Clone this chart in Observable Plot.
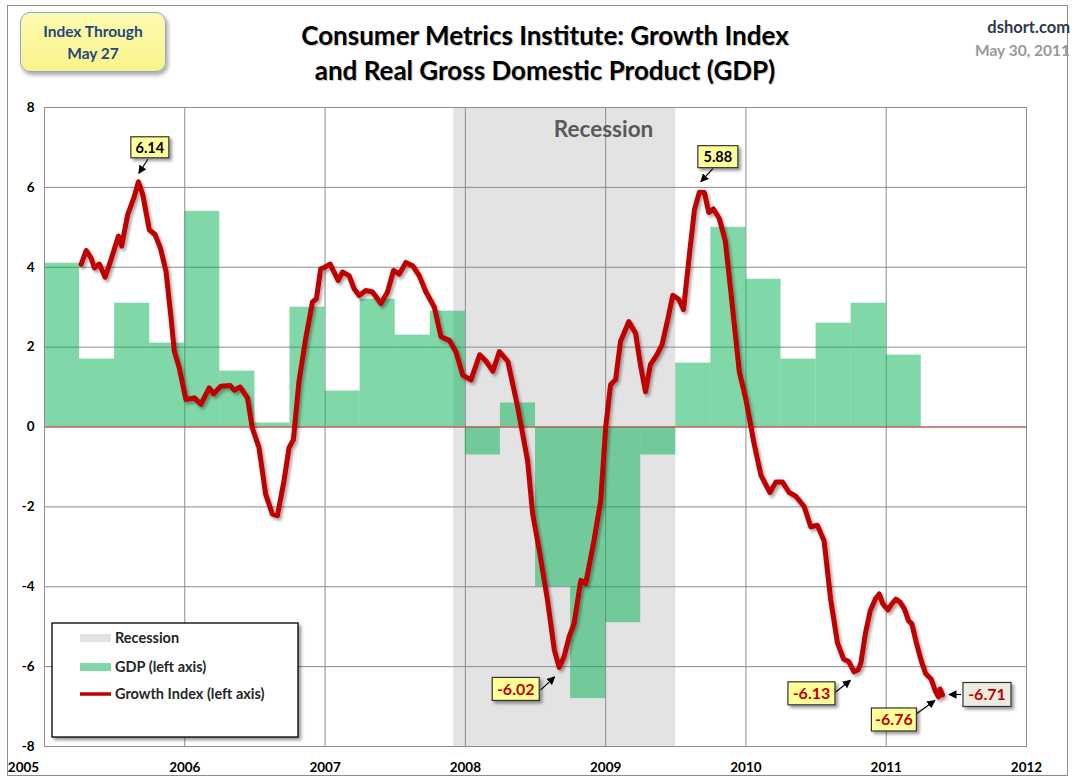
<!DOCTYPE html>
<html><head><meta charset="utf-8">
<script src="https://cdn.jsdelivr.net/npm/d3@7"></script>
<script src="https://cdn.jsdelivr.net/npm/@observablehq/plot@0.6"></script>
<style>
body{margin:0;background:#fff;font-family:Lato,"Open Sans",sans-serif;}
#wrap{position:relative;width:1075px;height:782px;overflow:hidden;background:#fff;}
#chart{position:absolute;left:0;top:0;}
.ov{position:absolute;z-index:2;}
</style></head><body>
<div id="wrap">
  <div id="chart"></div>
  <div class="ov" style="left:7px;top:5px;width:1061px;height:771px;border:1px solid #8c8c8c;box-sizing:border-box;"></div>
  <div class="ov" style="left:0;width:1090px;top:18px;text-align:center;font-weight:bold;font-size:26px;line-height:35px;color:#000;text-shadow:1px 1px 1px rgba(0,0,0,0.25);">Consumer Metrics Institute: Growth Index<br>and Real Gross Domestic Product (GDP)</div>
  <div class="ov" style="left:20px;top:12px;width:146px;height:60px;box-sizing:border-box;border:1.5px solid #8fa9cc;border-radius:10px;background:linear-gradient(#fdfbb0,#f9f48a);box-shadow:2px 3px 4px rgba(0,0,0,0.35);text-align:center;font-weight:bold;font-size:15.5px;line-height:22px;color:#1f497d;padding-top:7px;">Index Through<br>May 27</div>
  <div class="ov" style="right:5px;top:17px;text-align:right;font-weight:bold;font-size:16.5px;line-height:20px;color:#2e3a4c;">dshort.com</div>
  <div class="ov" style="right:5px;top:40px;text-align:right;font-weight:bold;font-size:15.5px;line-height:20px;color:#999;">May 30, 2011</div>
</div>
<script>
// ---- Data ----
const gdpQuarters = ["2005Q1","2005Q2","2005Q3","2005Q4","2006Q1","2006Q2","2006Q3","2006Q4",
  "2007Q1","2007Q2","2007Q3","2007Q4","2008Q1","2008Q2","2008Q3","2008Q4",
  "2009Q1","2009Q2","2009Q3","2009Q4","2010Q1","2010Q2","2010Q3","2010Q4","2011Q1"];
const gdpValues = [4.1,1.7,3.1,2.1,5.4,1.4,0.1,3.0,
  0.9,3.2,2.3,2.9,-0.7,0.6,-4.0,-6.8,
  -4.9,-0.7,1.6,5.0,3.7,1.7,2.6,3.1,1.8];

const giDates = [2005.261,2005.297,2005.332,2005.356,2005.391,2005.432,2005.474,2005.527,2005.550,2005.593,
  2005.641,2005.669,2005.700,2005.747,2005.788,2005.826,2005.866,2005.902,2005.925,2005.961,
  2006.008,2006.068,2006.115,2006.174,2006.205,2006.257,2006.324,2006.352,2006.395,2006.447,
  2006.481,2006.529,2006.576,2006.624,2006.660,2006.707,2006.743,2006.774,2006.814,2006.862,
  2006.910,2006.938,2006.969,2006.998,2007.036,2007.064,2007.093,2007.124,2007.171,2007.207,
  2007.243,2007.290,2007.338,2007.398,2007.445,2007.488,2007.529,2007.576,2007.624,2007.671,
  2007.719,2007.779,2007.826,2007.886,2007.933,2007.981,2008.040,2008.102,2008.149,2008.196,
  2008.243,2008.303,2008.374,2008.444,2008.480,2008.527,2008.586,2008.634,2008.669,2008.704,
  2008.740,2008.775,2008.823,2008.858,2008.917,2008.965,2009.000,2009.035,2009.071,2009.106,
  2009.165,2009.213,2009.248,2009.284,2009.319,2009.366,2009.402,2009.443,2009.479,2009.521,
  2009.555,2009.597,2009.633,2009.668,2009.704,2009.735,2009.768,2009.810,2009.853,2009.893,
  2009.953,2010.000,2010.059,2010.107,2010.171,2010.213,2010.261,2010.308,2010.355,2010.415,
  2010.462,2010.509,2010.557,2010.604,2010.652,2010.696,2010.732,2010.770,2010.800,2010.820,
  2010.851,2010.886,2010.922,2010.950,2010.976,2011.012,2011.040,2011.069,2011.100,2011.130,
  2011.159,2011.183,2011.211,2011.249,2011.282,2011.320,2011.349,2011.372,2011.384,2011.401];
const giValues = [4.07,4.42,4.23,3.98,4.08,3.75,4.19,4.78,4.53,5.32,
  5.78,6.14,5.82,4.94,4.82,4.48,3.90,2.73,1.90,1.48,
  0.69,0.73,0.57,0.98,0.83,1.02,1.04,0.92,1.00,0.73,
  -0.02,-0.52,-1.68,-2.18,-2.22,-1.35,-0.52,-0.32,1.14,2.22,
  3.13,3.21,3.96,4.00,4.08,3.88,3.67,3.88,3.79,3.46,
  3.29,3.42,3.38,3.09,3.38,3.92,3.83,4.12,4.04,3.79,
  3.38,3.00,2.26,2.17,1.88,1.30,1.18,1.81,1.64,1.40,
  1.89,1.64,0.48,-0.85,-2.18,-3.09,-4.34,-5.58,-6.02,-5.75,
  -5.25,-4.92,-3.84,-3.92,-2.84,-1.84,-0.02,1.06,1.19,2.14,
  2.64,2.35,1.56,0.88,1.56,1.81,2.06,2.70,3.30,3.20,
  2.94,4.32,5.44,5.88,5.87,5.37,5.46,5.22,4.66,3.37,
  1.38,0.69,-0.43,-1.21,-1.64,-1.38,-1.38,-1.64,-1.73,-1.99,
  -2.50,-2.46,-2.85,-4.32,-5.40,-5.81,-5.87,-6.13,-6.08,-5.90,
  -5.18,-4.60,-4.31,-4.18,-4.43,-4.58,-4.43,-4.31,-4.39,-4.56,
  -4.85,-4.93,-5.35,-5.85,-6.18,-6.31,-6.60,-6.76,-6.56,-6.71];

const recessionStarts = [2007.917];
const recessionEnds = [2009.5];
const recessionLabelX = [2008.985];
const recessionLabelY = [7.43];

const yearTicks = [2005,2006,2007,2008,2009,2010,2011,2012];
const valueTicks = [-8,-6,-4,-2,0,2,4,6,8];

const annLabels = ["6.14","5.88","-6.02","-6.13","-6.76","-6.71"];
const annX = [2005.669,2009.668,2008.669,2010.770,2011.372,2011.401];
const annY = [6.14,5.88,-6.02,-6.13,-6.76,-6.71];

const legendLabels = ["Recession","GDP (left axis)","Growth Index (left axis)"];

// ---- Tables ----
const gdp = gdpQuarters.map((q,i)=>{const yr=+q.slice(0,4), k=+q.slice(5); return {x1:yr+(k-1)/4, x2:yr+k/4, v:gdpValues[i]};});
const gi = giDates.map((t,i)=>({t, v:giValues[i]}));
const recession = recessionStarts.map((s,i)=>({start:s, end:recessionEnds[i], lx:recessionLabelX[i], ly:recessionLabelY[i]}));

const RED = "#c00000";
const annStyle = [
  {dx:12,dy:-34,w:38,h:21,a1:[10,-22],a2:[1,-8],color:"#000",fill:"#ffff99",fs:14.5},
  {dx:19,dy:-35,w:40,h:22,a1:[14,-23],a2:[2,-10],color:"#000",fill:"#ffff99",fs:14.5},
  {dx:-43,dy:22,w:47,h:23,a1:[-18,23],a2:[-4,10],color:RED,fill:"#ffff99",fs:16},
  {dx:-42,dy:22,w:47,h:23,a1:[-18,21],a2:[-3,9],color:RED,fill:"#ffff99",fs:16},
  {dx:-44,dy:23,w:45,h:23,a1:[-21,17],a2:[-3,4],color:RED,fill:"#ffff99",fs:16},
  {dx:45,dy:0,w:48,h:24,a1:[19,0],a2:[7,0],color:RED,fill:"#eeece1",fs:16}
];

function overlayMark(index, scales, values, dimensions, context) {
  const x = scales.x, y = scales.y;
  const g = d3.create("svg:g").attr("text-anchor","start");
  const defs = g.append("defs");
  defs.append("marker").attr("id","ah").attr("viewBox","0 0 10 10").attr("refX",9).attr("refY",5)
    .attr("markerWidth",7).attr("markerHeight",7).attr("orient","auto-start-reverse")
    .append("path").attr("d","M0,0L10,5L0,10z").attr("fill","#000");
  const f1 = defs.append("filter").attr("id","lineShadow").attr("x","-5%").attr("y","-5%").attr("width","110%").attr("height","110%");
  f1.append("feDropShadow").attr("dx",2).attr("dy",2.5).attr("stdDeviation",1.5).attr("flood-color","#000").attr("flood-opacity",0.35);
  const f2 = defs.append("filter").attr("id","boxShadow").attr("x","-20%").attr("y","-20%").attr("width","150%").attr("height","160%");
  f2.append("feDropShadow").attr("dx",2.5).attr("dy",2.5).attr("stdDeviation",1.5).attr("flood-color","#000").attr("flood-opacity",0.4);

  // annotations
  annLabels.forEach((lab,i)=>{
    const px = x(annX[i]), py = y(annY[i]), s = annStyle[i];
    const cx = px + s.dx, cy = py + s.dy;
    g.append("line").attr("x1",px+s.a1[0]).attr("y1",py+s.a1[1]).attr("x2",px+s.a2[0]).attr("y2",py+s.a2[1])
      .attr("stroke","#000").attr("stroke-width",1.2).attr("marker-end","url(#ah)");
    g.append("rect").attr("x",cx-s.w/2).attr("y",cy-s.h/2).attr("width",s.w).attr("height",s.h)
      .attr("fill",s.fill).attr("stroke","#333").attr("stroke-width",1.2).attr("filter","url(#boxShadow)");
    g.append("text").attr("x",cx).attr("y",cy).attr("text-anchor","middle").attr("dy","0.36em")
      .attr("fill",s.color).attr("font-size",s.fs).attr("font-weight","bold").text(lab);
  });

  // legend
  const lg = g.append("g");
  lg.append("rect").attr("x",52).attr("y",623).attr("width",246).attr("height",114)
    .attr("fill","#fff").attr("stroke","#000").attr("stroke-width",1.3).attr("filter","url(#boxShadow)");
  const ly = [638,667,694];
  lg.append("rect").attr("x",80).attr("y",ly[0]-4).attr("width",31).attr("height",8).attr("fill","#e3e3e3");
  lg.append("rect").attr("x",80).attr("y",ly[1]-4).attr("width",31).attr("height",8).attr("fill","rgb(1,177,81)").attr("fill-opacity",0.5);
  lg.append("line").attr("x1",80).attr("x2",111).attr("y1",ly[2]).attr("y2",ly[2]).attr("stroke",RED).attr("stroke-width",3.5);
  legendLabels.forEach((t,i)=>{
    lg.append("text").attr("x",115).attr("y",ly[i]).attr("dy","0.36em").attr("font-size",14.5)
      .attr("text-anchor","start").attr("font-weight","bold").attr("fill","#262626").text(t);
  });
  return g.node();
}

const chart = Plot.plot({
  width:1075, height:782,
  marginTop:107, marginBottom:36, marginLeft:44, marginRight:49,
  x:{domain:[2005,2012]},
  y:{domain:[-8,8]},
  style:{fontFamily:"Lato, 'Open Sans', sans-serif", fontSize:"13.5px", fontWeight:"bold", color:"#000", background:"transparent", overflow:"visible"},
  marks:[
    Plot.rect(recession,{x1:"start",x2:"end",y1:()=>-8,y2:()=>8,fill:"#e3e3e3"}),
    Plot.gridX(yearTicks,{stroke:"#8c8c8c",strokeOpacity:1}),
    Plot.gridY(valueTicks,{stroke:"#8c8c8c",strokeOpacity:1}),
    Plot.rect(gdp,{x1:"x1",x2:"x2",y1:()=>0,y2:"v",fill:"rgb(1,177,81)",fillOpacity:0.5}),
    Plot.ruleY([0],{stroke:"#d64545",strokeWidth:1}),
    Plot.frame({stroke:"#8c8c8c"}),
    Plot.text(recession,{x:"lx",y:"ly",text:()=>"Recession",fill:"#595959",fontSize:22.5,fontWeight:"bold"}),
    Plot.line(gi,{x:"t",y:"v",stroke:RED,strokeWidth:5,strokeLinejoin:"round",strokeLinecap:"round"}),
    Plot.axisX(yearTicks.slice(1),{tickSize:0,tickPadding:16,tickFormat:d=>String(d),label:null}),
    Plot.axisX(yearTicks.slice(0,1),{tickSize:0,tickPadding:16,tickFormat:d=>String(d),dx:-21,label:null}),
    Plot.axisY(valueTicks,{tickSize:0,tickPadding:10,tickFormat:d=>String(d),label:null}),
    overlayMark
  ]
});
document.getElementById("chart").appendChild(chart);
const lineG = chart.querySelector('g[aria-label="line"]');
if (lineG) lineG.setAttribute("filter","url(#lineShadow)");
</script>
</body></html>
